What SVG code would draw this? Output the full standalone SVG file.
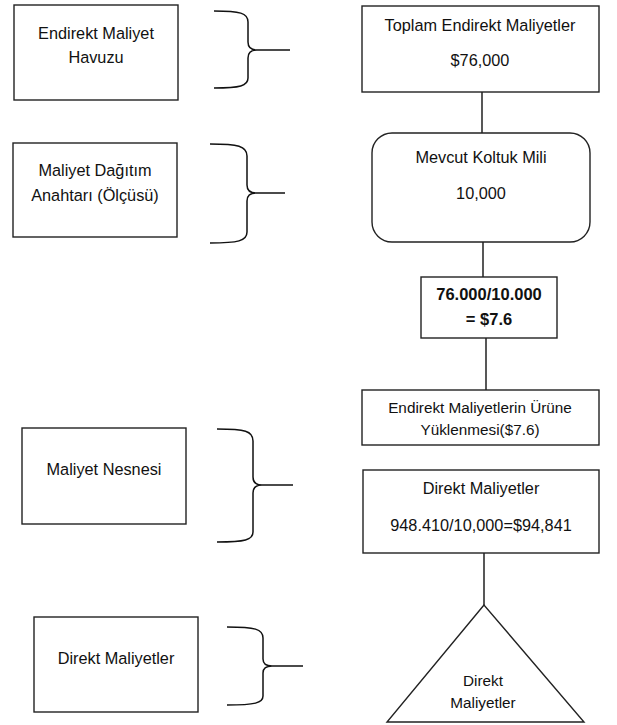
<svg xmlns="http://www.w3.org/2000/svg" width="617" height="725" viewBox="0 0 617 725">
<style>
.box{fill:#fff;stroke:#222;stroke-width:1.4}
.br{fill:none;stroke:#111;stroke-width:1.5}
.ln{fill:none;stroke:#111;stroke-width:1.4}
text{font-family:"Liberation Sans",Arial,sans-serif;font-size:16.3px;fill:#111;text-anchor:middle}
.b{font-weight:bold;font-size:16.5px}
.s{font-size:15.3px}
</style>
<rect width="617" height="725" fill="#fff"/>
<g id="connectors">
<line class="ln" x1="482" y1="92" x2="482" y2="133"/>
<line class="ln" x1="483" y1="242" x2="483" y2="277"/>
<line class="ln" x1="486" y1="338" x2="486" y2="390"/>
<line class="ln" x1="484" y1="553" x2="484" y2="605"/>
</g>
<g id="n-havuz">
<rect class="box" x="14" y="5" width="164" height="95"/>
<text x="96" y="39">Endirekt Maliyet</text>
<text x="96" y="63">Havuzu</text>
</g>
<g id="brace1">
<path class="br" d="M214,11 C240,11 248,13 248,22 L248,42 C248,48 252,50 257,50 C252,50 248,52 248,58 L248,78 C248,86 240,88 214,88 M257,50 L290,50"/>
</g>
<g id="n-anahtar">
<rect class="box" x="13" y="143" width="164" height="94"/>
<text x="95" y="176">Maliyet Dağıtım</text>
<text x="95" y="201">Anahtarı (Ölçüsü)</text>
</g>
<g id="brace2">
<path class="br" d="M210,144 C238,144 247,146 247,156 L247,185 C247,191 251,193 256,193 C251,193 247,195 247,201 L247,232 C247,241 238,243 210,243 M256,193 L285,193"/>
</g>
<g id="n-nesne">
<rect class="box" x="22" y="428" width="164" height="96"/>
<text x="104" y="475">Maliyet Nesnesi</text>
</g>
<g id="brace3">
<path class="br" d="M217,429 C245,429 253,431 253,441 L253,477 C253,483 257,485 262,485 C257,485 253,487 253,493 L253,532 C253,540 245,542 217,542 M262,485 L293,485"/>
</g>
<g id="n-direkt-left">
<rect class="box" x="34" y="617" width="164" height="95"/>
<text x="116" y="664">Direkt Maliyetler</text>
</g>
<g id="brace4">
<path class="br" d="M227,627 C255,627 263,629 263,638 L263,659 C263,664 267,666 272,666 C267,666 263,668 263,673 L263,696 C263,703 255,705 227,705 M272,666 L303,666"/>
</g>
<g id="n-toplam">
<rect class="box" x="362" y="6" width="237" height="86"/>
<text x="480" y="31">Toplam Endirekt Maliyetler</text>
<text x="480" y="66">$76,000</text>
</g>
<g id="n-koltuk">
<rect class="box" x="372" y="133" width="218" height="109" rx="20" ry="20"/>
<text x="481" y="163">Mevcut Koltuk Mili</text>
<text x="481" y="199">10,000</text>
</g>
<g id="n-oran">
<rect class="box" x="421" y="277" width="136" height="61"/>
<text class="b" x="489" y="300">76.000/10.000</text>
<text class="b" x="489" y="325">= $7.6</text>
</g>
<g id="n-yukleme">
<rect class="box" x="362" y="390" width="237" height="55"/>
<text class="s" x="480" y="413">Endirekt Maliyetlerin Ürüne</text>
<text class="s" x="480" y="435">Yüklenmesi($7.6)</text>
</g>
<g id="n-direkt-right">
<rect class="box" x="363" y="470" width="236" height="83"/>
<text x="481" y="494">Direkt Maliyetler</text>
<text x="481" y="531">948.410/10,000=$94,841</text>
</g>
<g id="n-ucgen">
<polygon class="box" points="484,605 387,722 584,722"/>
<text class="s" x="483" y="686">Direkt</text>
<text class="s" x="483" y="708">Maliyetler</text>
</g>
</svg>
